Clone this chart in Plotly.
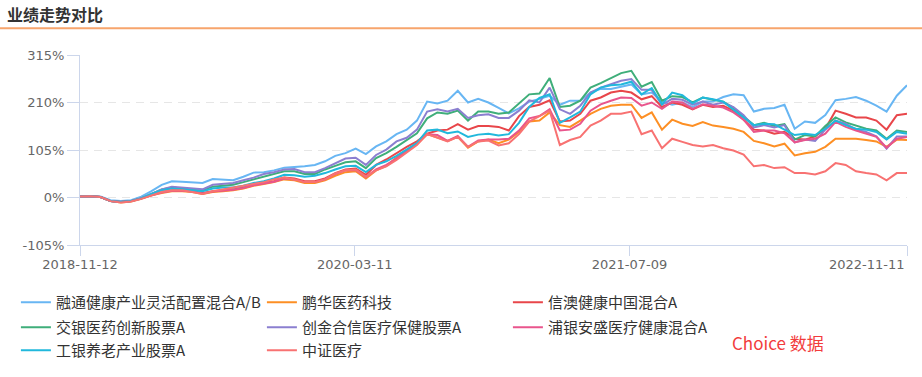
import pandas as pd
import plotly.graph_objects as go

start_date = "2018-11-12"
end_date = "2022-11-11"
n_points = 82
dates = pd.date_range(start_date, end_date, periods=n_points)

tick_dates = ["2018-11-12", "2020-03-11", "2021-07-09", "2022-11-11"]
y_ticks = [-105, 0, 105, 210, 315]

names = ["融通健康产业灵活配置混合A/B", "鹏华医药科技", "信澳健康中国混合A",
         "交银医药创新股票A", "创金合信医疗保健股票A", "浦银安盛医疗健康混合A",
         "工银养老产业股票A", "中证医疗"]
colors = ["#68b6f3", "#fd8f24", "#e8464a", "#3fae7a", "#8b7fd0", "#e9558c", "#21b8dc", "#f87272"]
legend_rows = ["legend", "legend", "legend", "legend2", "legend2", "legend2", "legend3", "legend3"]

rongtong = [2, 3, 2, -6, -8, -6, 2, 14, 28, 36, 35, 34, 32, 41, 40, 38, 46, 55, 56, 60,
            66, 67, 69, 72, 80, 92, 98, 108, 96, 113, 124, 140, 150, 170, 212, 208, 214, 236, 210, 218,
            210, 198, 186, 197, 212, 218, 225, 205, 214, 214, 232, 240, 240, 245, 250, 228, 232, 212, 205, 210,
            200, 212, 212, 222, 228, 226, 190, 196, 198, 205, 152, 168, 165, 182, 215, 218, 222, 214, 203, 190,
            225, 248]
penghua = [2, 3, 1, -8, -11, -9, -3, 5, 10, 14, 14, 12, 8, 12, 14, 16, 20, 26, 30, 34,
           40, 38, 32, 32, 38, 48, 56, 58, 42, 60, 70, 88, 102, 118, 140, 132, 125, 134, 110, 124,
           128, 120, 128, 145, 168, 170, 188, 160, 156, 170, 185, 196, 203, 205, 205, 176, 188, 150, 172, 163,
           158, 167, 159, 156, 152, 145, 125, 120, 113, 119, 93, 98, 101, 112, 130, 130, 130, 127, 124, 112,
           128, 127]
xinao = [2, 3, 1, -8, -10, -8, -2, 6, 12, 16, 16, 14, 10, 14, 16, 18, 22, 28, 32, 36,
         44, 42, 36, 36, 42, 54, 62, 64, 50, 72, 84, 98, 112, 124, 141, 148, 150, 162, 150, 158,
         158, 156, 148, 180, 200, 205, 215, 168, 170, 185, 214, 221, 232, 236, 232, 217, 224, 200, 210, 205,
         195, 205, 200, 203, 192, 172, 150, 148, 141, 145, 130, 128, 135, 152, 192, 185, 177, 177, 170, 150,
         182, 185]
jiaoyin = [2, 3, 1, -8, -10, -8, -2, 8, 18, 22, 20, 18, 16, 24, 26, 28, 34, 40, 46, 52,
           58, 58, 52, 52, 62, 70, 78, 80, 65, 87, 98, 112, 127, 142, 175, 188, 185, 192, 170, 190,
           190, 185, 188, 208, 228, 230, 264, 200, 203, 214, 243, 253, 264, 275, 280, 245, 255, 214, 224, 222,
           210, 221, 216, 212, 198, 178, 160, 165, 158, 162, 128, 138, 135, 158, 177, 166, 159, 152, 148, 130,
           148, 145]
chuangjin = [2, 3, 1, -8, -10, -8, -2, 8, 18, 24, 22, 20, 18, 28, 30, 32, 38, 44, 52, 56,
             62, 63, 56, 56, 65, 76, 86, 88, 72, 94, 106, 124, 132, 150, 190, 195, 190, 196, 176, 182,
             184, 176, 176, 192, 215, 210, 243, 195, 185, 203, 232, 243, 250, 258, 262, 238, 238, 205, 218, 216,
             205, 212, 205, 210, 200, 182, 155, 160, 155, 160, 122, 128, 125, 150, 170, 163, 150, 145, 135, 108,
             135, 135]
puyin = [2, 3, 1, -8, -10, -8, -2, 5, 11, 15, 15, 13, 9, 13, 15, 17, 21, 27, 31, 35,
         42, 40, 34, 34, 40, 52, 60, 61, 45, 62, 72, 86, 104, 120, 140, 138, 125, 136, 112, 126,
         128, 128, 130, 148, 175, 180, 195, 148, 150, 163, 192, 206, 214, 221, 220, 203, 210, 196, 212, 210,
         196, 206, 203, 199, 188, 172, 145, 148, 148, 142, 122, 127, 130, 141, 167, 156, 148, 141, 134, 110,
         130, 134]
gongyin = [2, 3, 1, -8, -10, -8, -2, 8, 16, 20, 18, 16, 14, 20, 22, 22, 26, 32, 36, 42,
           50, 49, 46, 48, 54, 62, 69, 70, 56, 72, 80, 92, 106, 120, 148, 150, 142, 146, 134, 139,
           141, 137, 140, 165, 200, 220, 228, 165, 177, 190, 228, 243, 248, 250, 256, 228, 242, 206, 232, 226,
           208, 221, 217, 212, 194, 177, 160, 163, 162, 150, 138, 141, 138, 152, 170, 160, 152, 150, 145, 128,
           145, 141]
zhongzheng = [2, 3, 1, -8, -11, -9, -3, 5, 12, 16, 16, 12, 8, 14, 18, 22, 26, 30, 34, 40,
              44, 40, 34, 34, 40, 53, 60, 62, 46, 60, 69, 83, 100, 116, 140, 132, 124, 134, 112, 124,
              126, 115, 120, 140, 168, 180, 192, 116, 127, 134, 159, 170, 185, 185, 190, 140, 148, 109, 130, 123,
              116, 113, 116, 109, 104, 95, 69, 72, 65, 67, 54, 54, 51, 58, 76, 72, 58, 54, 51, 38,
              54, 54]

series = [rongtong, penghua, xinao, jiaoyin, chuangjin, puyin, gongyin, zhongzheng]

FONT = "Noto Sans CJK SC, Noto Sans, sans-serif"
TICK_FONT = "DejaVu Sans, sans-serif"
AXIS_COLOR = "#ccd6eb"

fig = go.Figure()
for name, color, vals, lg in zip(names, colors, series, legend_rows):
    fig.add_trace(go.Scatter(
        x=dates, y=vals, name=name, mode="lines", legend=lg,
        line=dict(color=color, width=2),
        hovertemplate="%{x|%Y-%m-%d}<br>%{y}%<extra>" + name + "</extra>",
    ))

def legend_row(top_px):
    return dict(orientation="h", x=-0.0775, xanchor="left",
                y=(246 - top_px) / 191, yanchor="top",
                entrywidth=201, entrywidthmode="pixels",
                font=dict(size=15, color="#333333", family=FONT),
                bgcolor="rgba(0,0,0,0)", traceorder="normal")

fig.update_layout(
    width=922, height=377,
    margin=dict(l=80, r=15, t=55, b=131),
    paper_bgcolor="white", plot_bgcolor="white",
    font=dict(family=FONT, size=13, color="#666666"),
    title=dict(text="<b>业绩走势对比</b>", x=7 / 922, xanchor="left",
               y=1 - 15 / 377, yanchor="middle", xref="container", yref="container",
               font=dict(size=16, color="#333333", family=FONT)),
    showlegend=True,
    legend=legend_row(286),
    legend2=legend_row(311),
    legend3=legend_row(334),
    xaxis=dict(type="date", range=[start_date, end_date],
               tickmode="array", tickvals=tick_dates,
               ticktext=tick_dates[:3] + [""],
               ticks="outside", ticklen=10, tickcolor=AXIS_COLOR, tickwidth=1,
               ticklabelstandoff=-3,
               showline=True, linecolor=AXIS_COLOR, linewidth=1,
               showgrid=False, zeroline=False,
               tickfont=dict(size=13, color="#666666", family=TICK_FONT)),
    yaxis=dict(range=[-105, 315], tickmode="array", tickvals=y_ticks,
               ticktext=[f"{v}%" for v in y_ticks],
               ticks="outside", ticklen=12, tickcolor=AXIS_COLOR, tickwidth=1,
               showline=True, linecolor=AXIS_COLOR, linewidth=1,
               showgrid=True, gridcolor="#e6e6e6", griddash="8px,6px", gridwidth=1,
               zeroline=False,
               tickfont=dict(size=13, color="#666666", family=TICK_FONT)),
    shapes=[dict(type="line", xref="paper", yref="paper",
                 x0=-80 / 827, x1=842 / 827, y0=(246 - 28) / 191, y1=(246 - 28) / 191,
                 line=dict(color="#f7a56c", width=2))],
    annotations=[
        dict(text=tick_dates[3], x=end_date, xref="x", xanchor="right",
             y=0, yref="paper", yanchor="top", yshift=-10, showarrow=False,
             font=dict(size=13, color="#666666", family=TICK_FONT)),
        dict(text="Choice 数据", x=(778 - 80) / 827, xref="paper", xanchor="center",
             y=(246 - 344) / 191, yref="paper", yanchor="middle", showarrow=False,
             font=dict(size=17, color="#f23c3c", family=FONT)),
    ],
)

fig.write_html("out.html", config={"displayModeBar": False},
               post_script="document.body.style.margin='0';")
